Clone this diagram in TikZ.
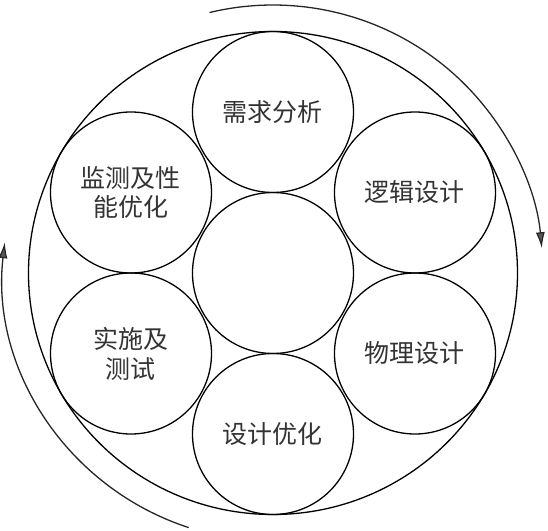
\documentclass[tikz,border=0pt]{standalone}
\usepackage{fontspec}
\usetikzlibrary{arrows.meta,shapes.geometric}
\newfontfamily\cjk{Noto Sans CJK SC}

\begin{document}
\begin{tikzpicture}[%
    x=0.5pt, y=0.5pt,
    line width=0.65pt,
    stage/.style={%
        draw,
        circle,
        minimum size=80.5pt,
        inner sep=0pt,
        align=center,
        font=\cjk\fontsize{12.5}{15}\selectfont,
        text=black!80,
    },
    flow/.style={%
        -{Latex[length=8pt,width=4.5pt,fill=black!65]},
        draw=black!85,
    }
]
\useasboundingbox (-273,-258) rectangle (275,273);
    \node[stage] (core) at (0,0) {};
    \foreach \n/\pos/\txt in {%
        req/{(0,161)}/需求分析,
        logic/{(142,80.5)}/逻辑设计,
        phys/{(142,-80.5)}/物理设计,
        opt/{(0,-161)}/设计优化,
        impl/{(-142,-80.5)}/实施及\\测试,
        mon/{(-142,80.5)}/监测及性\\能优化%
    }{%
        \node[stage] (\n) at \pos {\txt};
    }
    % outer ring, touching the six stages
    \node[draw, ellipse, minimum width=244.5pt, minimum height=241.5pt, inner sep=0pt] (ring) at (0,0) {};

    \coordinate (top start) at ({270*cos(103.6)},{268*sin(103.6)});
    \coordinate (low start) at ({270*cos(251.8)},{268*sin(251.8)});
    \draw[flow] (top start) arc[start angle=103.6, end angle=5.3, x radius=270, y radius=268];
    \draw[flow] (low start) arc[start angle=251.8, end angle=173.4, x radius=270, y radius=268];
\end{tikzpicture}
\end{document}
